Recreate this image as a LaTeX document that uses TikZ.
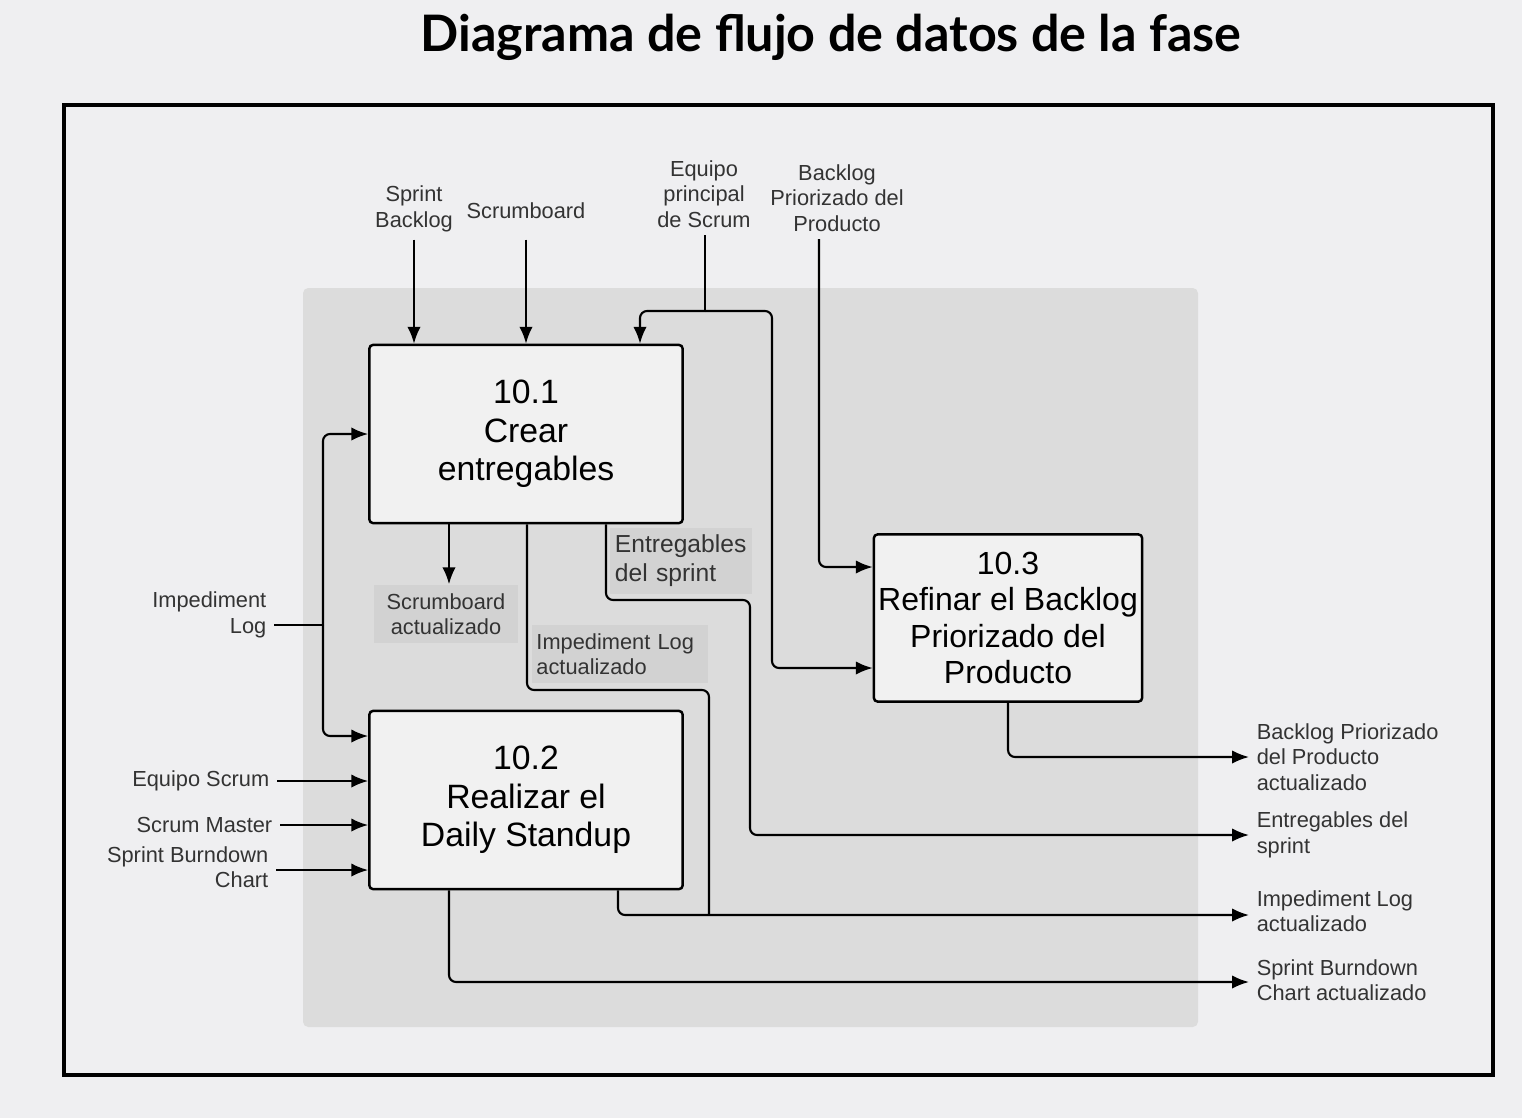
\documentclass[tikz,border=0pt]{standalone}
\usepackage{fontspec}
\setmainfont{Liberation Sans}
\newfontfamily\titlefont{Lato}
\usetikzlibrary{arrows.meta,positioning}

\definecolor{fondo}{HTML}{EFEFF1}
\definecolor{zona}{HTML}{DCDCDC}
\definecolor{caja}{HTML}{F1F1F1}
\definecolor{etiq}{HTML}{D2D2D2}
\definecolor{texto}{HTML}{333333}

\tikzset{
    proceso/.style={draw, fill=caja, line width=0.7pt, rounded corners=1pt,
        inner xsep=1pt, align=center, font=\fontsize{9.6}{11}\selectfont},
    dato/.style={inner sep=2pt, align=center, text=texto,
        font=\fontsize{6.2}{7.2}\selectfont},
    datofondo/.style={dato, fill=etiq, align=left},
    flujo/.style={-{Latex[length=4.8pt,width=3.8pt]}, line width=0.6pt, rounded corners=2pt},
    linea/.style={line width=0.6pt, rounded corners=2pt}
}

\begin{document}
\begin{tikzpicture}[x=0.01cm,y=-0.01cm]
        \fill[fondo] (0,0) rectangle (1522,1118);
        \useasboundingbox (0,0) rectangle (1522,1118);
        \node (titulo) at (831,37) {\titlefont\bfseries\fontsize{14.3}{17}\selectfont Diagrama de flujo de datos de la fase};
        \draw[line width=0.9pt] (64,105) rectangle (1493,1075);
        \fill[zona, rounded corners=1.5pt] (303,288) rectangle (1198,1027);

        \node[proceso, minimum width=3.13cm, minimum height=1.78cm] (crear) at (526,434) {10.1\\Crear\\entregables};
        \node[proceso, minimum width=3.13cm, minimum height=1.78cm] (daily) at (526,800) {10.2\\Realizar el\\Daily Standup};
        \node[proceso, minimum width=2.68cm, minimum height=1.67cm, font=\fontsize{9.1}{10.3}\selectfont] (refinar) at (1008,618) {10.3\\Refinar el Backlog\\Priorizado del\\Producto};

        \node[dato] (sbk) at (414,209) {Sprint\\Backlog};
        \node[dato] (scb) at (526,211) {Scrumboard};
        \node[dato] (epr) at (704,194) {Equipo\\principal\\de Scrum};
        \node[dato] (bpp) at (837,198) {Backlog\\Priorizado del\\Producto};
        \node[dato, align=right, anchor=east] (ilg) at (274,615) {Impediment\\Log};
        \node[dato, anchor=east] (eqs) at (277,781) {Equipo Scrum};
        \node[dato, anchor=east] (smr) at (280,825) {Scrum Master};
        \node[dato, align=right, anchor=east] (sbc) at (276,867) {Sprint Burndown\\Chart};

        \node[datofondo, align=center, minimum width=1.43cm, minimum height=0.58cm] (sba) at (446,614) {Scrumboard\\actualizado};
        \node[datofondo, text width=1.32cm, inner xsep=0.05cm, minimum height=0.63cm,
            font=\fontsize{7}{8.2}\selectfont] (eds) at (681,561) {Entregables\\del sprint};
        \node[datofondo, text width=1.67cm, inner xsep=0.04cm, minimum height=0.58cm] (ila) at (620,654) {Impediment Log\\actualizado};

        \node[dato, align=left, anchor=west] (bpa) at (1249,757) {Backlog Priorizado\\del Producto\\actualizado};
        \node[dato, align=left, anchor=west] (edo) at (1249,835) {Entregables del\\sprint};
        \node[dato, align=left, anchor=west] (ilo) at (1249,911) {Impediment Log\\actualizado};
        \node[dato, align=left, anchor=west] (sbo) at (1249,980) {Sprint Burndown\\Chart actualizado};

        \coordinate (epj) at (705,311);
        \coordinate (ilj) at (323,625);
        \coordinate (ilf) at (709,915);

        \draw[flujo] (sbk.south) -- (sbk.south |- crear.north);
        \draw[flujo] (scb.south |- sbk.south) -- (scb.south |- crear.north);
        \draw[linea] (epr.south -| epj) -- (epj);
        \draw[flujo] (epj) -| (crear.north -| 640,0);
        \draw[flujo] (epj) -| (772,668) -- (refinar.west |- 0,668);
        \draw[flujo] (bpp.south -| 819,0) |- (refinar.west |- 0,567);

        \draw[linea] (ilg.east |- ilj) -- (ilj);
        \draw[flujo] (ilj) |- (crear.west);
        \draw[flujo] (ilj) |- (daily.west |- 0,736);
        \draw[flujo] (eqs.east) -- (eqs.east -| daily.west);
        \draw[flujo] (smr.east) -- (smr.east -| daily.west);
        \draw[flujo] (sbc.east |- 0,870) -- (daily.west |- 0,870);

        \draw[flujo] (crear.south -| 449,0) -- (sba.north -| 449,0);
        \draw[linea] (crear.south -| 527,0) |- (709,690) -- (ilf);
        \draw[flujo] (crear.south -| 606,0) |- (750,600) |- (edo.west);
        \draw[flujo] (daily.south -| 618,0) |- (ilo.west |- ilf);
        \draw[flujo] (daily.south -| 449,0) |- (sbo.west |- 0,982);
        \draw[flujo] (refinar.south) |- (bpa.west);
    \end{tikzpicture}
\end{document}
